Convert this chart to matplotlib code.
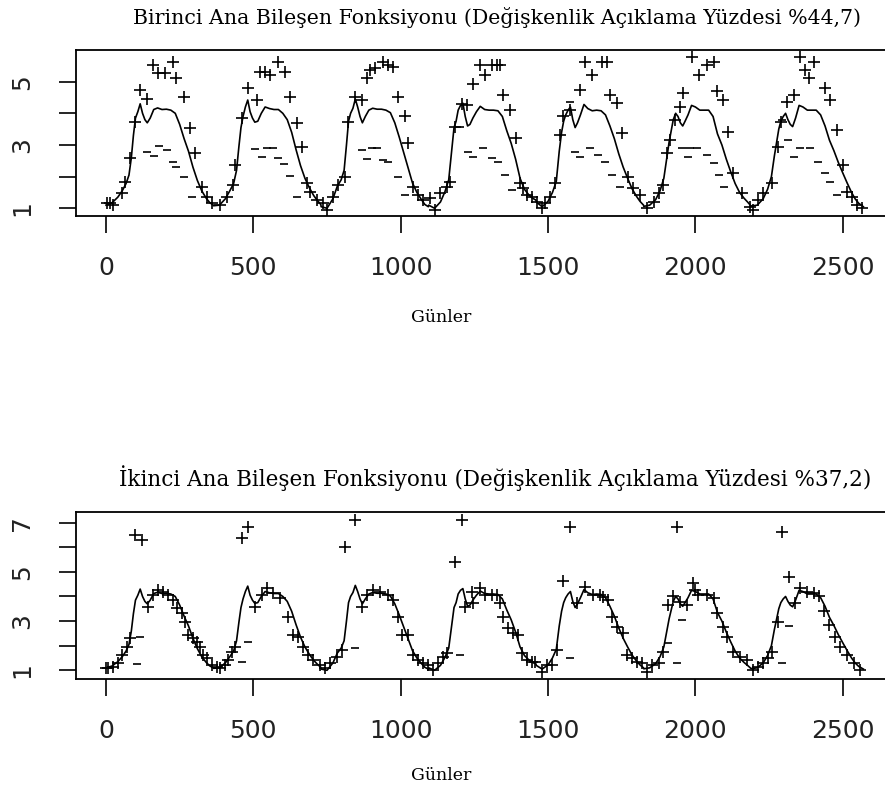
import numpy as np
import matplotlib.pyplot as plt

# --- data ------------------------------------------------------------------
year_len = 365
mean_doy = [0, 20, 40, 55, 68, 78, 86, 93, 100, 108, 116, 124, 132, 140, 150,
            162, 175, 190, 205, 220, 235, 250, 265, 280, 295, 310, 325, 340, 352, 364]
mean_y1 = [1.10, 1.17, 1.35, 1.55, 1.78, 2.05, 2.60, 3.30, 3.85, 4.05, 4.30, 4.00, 3.80, 3.70, 3.85,
           4.12, 4.17, 4.12, 4.13, 4.10, 4.00, 3.65, 3.20, 2.80, 2.30, 1.88, 1.55, 1.32, 1.18, 1.10]
mean_y2 = [1.08, 1.10, 1.30, 1.55, 1.78, 2.20, 2.95, 3.55, 3.90, 4.20, 4.42, 4.05, 3.85, 3.72, 3.75,
           4.00, 4.20, 4.15, 4.12, 4.12, 4.00, 3.80, 3.40, 2.85, 2.35, 1.95, 1.65, 1.40, 1.25, 1.12]
mean_y3 = [1.05, 1.00, 1.30, 1.70, 1.90, 2.20, 3.00, 3.75, 4.00, 4.16, 4.45, 4.20, 3.90, 3.70, 3.90,
           4.10, 4.16, 4.13, 4.13, 4.10, 4.02, 3.70, 3.25, 2.77, 2.28, 1.80, 1.50, 1.28, 1.12, 1.05]
mean_y4 = [1.10, 1.00, 1.20, 1.52, 1.90, 2.80, 3.55, 3.75, 4.10, 4.25, 4.32, 3.90, 3.60, 3.65, 3.85,
           4.05, 4.22, 4.12, 4.10, 4.10, 4.08, 3.90, 3.45, 3.05, 2.55, 1.95, 1.60, 1.42, 1.32, 1.26]
mean_y5 = [1.20, 1.05, 1.22, 1.50, 1.85, 2.80, 3.40, 3.75, 3.95, 4.10, 4.20, 3.80, 3.55, 3.70, 3.95,
           4.28, 4.15, 4.08, 4.10, 4.08, 3.95, 3.60, 3.20, 2.72, 2.30, 1.95, 1.62, 1.38, 1.22, 1.10]
mean_y6 = [1.06, 1.10, 1.27, 1.55, 1.95, 2.60, 3.10, 3.45, 3.80, 4.00, 3.90, 3.70, 3.60, 3.75, 3.95,
           4.25, 4.20, 4.10, 4.10, 4.10, 3.90, 3.35, 3.00, 2.55, 2.15, 1.78, 1.50, 1.32, 1.20, 1.07]
mean_y7 = [1.07, 1.10, 1.30, 1.60, 2.00, 2.65, 3.10, 3.50, 3.75, 3.90, 4.00, 3.80, 3.65, 3.58, 3.85,
           4.25, 4.20, 4.10, 4.10, 4.10, 3.95, 3.60, 3.15, 2.82, 2.45, 2.12, 1.80, 1.50, 1.30, 1.16]
mean_end_day = [2570]
mean_end_val = [1.05]

# first component: mean + / - component
pc1_plus_day = [2, 14, 25, 53, 64, 81, 98, 115, 140, 161, 178, 200, 229, 238, 265, 285, 302, 325, 342, 359,
                387, 410, 432, 438, 460, 483, 511, 523, 540, 557, 585, 607, 624, 647, 664, 681, 692, 715, 738,
                749, 771, 788, 811, 822, 845, 868, 885, 896, 913, 941, 958, 975, 992, 1015, 1026, 1043, 1060,
                1077, 1100, 1117, 1133, 1156, 1167, 1184, 1207, 1224, 1247, 1269, 1286, 1309, 1326, 1337, 1348,
                1371, 1390, 1405, 1415, 1427, 1444, 1461, 1478, 1490, 1507, 1524, 1541, 1552, 1575, 1609, 1626,
                1648, 1682, 1699, 1710, 1733, 1750, 1773, 1790, 1812, 1835, 1858, 1875, 1891, 1903, 1914, 1931,
                1948, 1959, 1988, 2011, 2040, 2062, 2072, 2095, 2112, 2129, 2157, 2185, 2197, 2214, 2231, 2259,
                2282, 2290, 2310, 2333, 2355, 2372, 2384, 2401, 2440, 2457, 2480, 2502, 2514, 2531, 2548, 2565]
pc1_plus_val = [1.16, 1.18, 1.11, 1.47, 1.84, 2.58, 3.74, 4.74, 4.44, 5.53, 5.27, 5.27, 5.63, 5.11, 4.53, 3.53,
                2.74, 1.68, 1.37, 1.16, 1.11, 1.37, 1.74, 2.37, 3.84, 4.79, 4.42, 5.32, 5.32, 5.21, 5.63, 5.32,
                4.53, 3.69, 2.95, 1.79, 1.53, 1.26, 1.16, 0.95, 1.37, 1.74, 2.00, 3.74, 4.53, 4.42, 5.11, 5.37,
                5.42, 5.63, 5.53, 5.47, 4.53, 3.90, 3.05, 1.68, 1.42, 1.26, 1.32, 0.95, 1.47, 1.68, 1.84, 3.58,
                4.30, 4.26, 4.92, 5.53, 5.21, 5.53, 5.53, 5.53, 4.58, 4.11, 3.21, 1.79, 1.63, 1.42, 1.37, 1.21,
                1.00, 1.16, 1.37, 1.79, 3.32, 3.90, 4.11, 4.74, 5.63, 5.21, 5.63, 5.63, 4.58, 4.32, 3.37, 2.00,
                1.63, 1.42, 1.00, 1.21, 1.47, 1.74, 2.74, 3.16, 3.79, 4.21, 4.63, 5.79, 5.21, 5.53, 5.63, 4.69,
                4.42, 3.42, 2.11, 1.47, 1.05, 0.95, 1.26, 1.47, 1.79, 2.95, 3.74, 4.37, 4.58, 5.79, 5.37, 5.11,
                5.63, 4.79, 4.42, 3.47, 2.37, 1.53, 1.37, 1.11, 1.00]
pc1_minus_day = [140, 163, 181, 208, 229, 238, 265, 291,
                 506, 528, 545, 568, 585, 604, 624, 647,
                 868, 885, 902, 918, 941, 958, 992, 1015,
                 1201, 1230, 1247, 1281, 1309, 1331, 1354, 1377,
                 1575, 1592, 1609, 1643, 1671, 1693, 1716, 1744,
                 1953, 1976, 1982, 2004, 2039, 2062, 2079, 2096,
                 2293, 2315, 2333, 2355, 2389, 2417, 2440, 2457, 2480]
pc1_minus_val = [2.79, 2.65, 2.97, 2.84, 2.47, 2.30, 1.98, 1.37,
                 2.86, 2.61, 2.90, 2.90, 2.58, 2.40, 2.02, 1.35,
                 2.84, 2.55, 2.90, 2.90, 2.53, 2.47, 2.00, 1.42,
                 3.58, 2.79, 2.61, 2.90, 2.58, 2.47, 2.05, 1.58,
                 4.37, 2.79, 2.61, 2.90, 2.68, 2.47, 2.05, 1.68,
                 2.90, 2.61, 2.90, 2.90, 2.68, 2.44, 2.05, 1.68,
                 3.79, 3.16, 2.63, 2.90, 2.90, 2.47, 2.11, 1.84, 1.42]

# second component
pc2_plus_day = [0, 8, 25, 42, 53, 70, 81, 98, 121, 144, 161, 178, 195, 212, 229, 240, 257, 268, 279, 296, 308,
                319, 330, 342, 359, 376, 387, 404, 415, 426, 438, 460, 483, 506, 528, 545, 568, 590, 619, 636,
                653, 670, 687, 704, 726, 743, 760, 783, 800, 811, 845, 868, 885, 907, 930, 958, 975, 992, 1003,
                1026, 1043, 1060, 1077, 1094, 1111, 1128, 1145, 1156, 1184, 1207, 1218, 1241, 1247, 1269, 1286,
                1309, 1326, 1337, 1348, 1365, 1382, 1399, 1410, 1427, 1444, 1455, 1478, 1495, 1513, 1530, 1552,
                1575, 1597, 1626, 1653, 1676, 1687, 1705, 1716, 1733, 1755, 1767, 1784, 1801, 1818, 1835, 1852,
                1875, 1891, 1908, 1925, 1936, 1948, 1970, 1993, 1999, 2010, 2039, 2062, 2072, 2095, 2106, 2129,
                2152, 2174, 2197, 2214, 2231, 2248, 2259, 2282, 2293, 2316, 2338, 2355, 2378, 2401, 2418, 2435,
                2452, 2474, 2491, 2514, 2537, 2559]
pc2_plus_val = [1.08, 1.08, 1.15, 1.28, 1.62, 1.96, 2.30, 6.49, 6.30, 3.59, 4.06, 4.26, 4.20, 4.06, 3.86, 3.52,
                3.32, 2.98, 2.44, 2.30, 2.16, 1.96, 1.62, 1.49, 1.22, 1.15, 1.08, 1.22, 1.42, 1.76, 1.96, 6.36,
                6.83, 3.59, 4.06, 4.33, 4.13, 3.93, 3.18, 2.44, 2.37, 1.96, 1.62, 1.42, 1.22, 1.08, 1.28, 1.55,
                1.83, 6.02, 7.11, 3.59, 4.06, 4.26, 4.20, 4.06, 3.86, 3.18, 2.44, 2.44, 1.62, 1.42, 1.28, 1.22,
                1.01, 1.28, 1.55, 1.69, 5.42, 7.11, 3.59, 4.20, 3.72, 4.33, 4.06, 4.06, 4.06, 3.72, 3.18, 2.71,
                2.50, 2.44, 1.69, 1.42, 1.35, 1.35, 0.94, 1.22, 1.22, 1.83, 4.61, 6.84, 3.72, 4.40, 4.06, 4.06,
                3.99, 3.86, 3.18, 2.77, 2.50, 1.62, 1.49, 1.35, 1.28, 0.94, 1.22, 1.28, 1.76, 3.66, 4.00, 6.84,
                3.79, 3.66, 4.53, 4.26, 4.06, 4.06, 3.93, 3.32, 2.77, 2.37, 1.76, 1.55, 1.42, 1.01, 1.15, 1.28,
                1.49, 1.76, 2.98, 6.63, 4.81, 3.72, 4.33, 4.20, 4.13, 4.00, 3.39, 2.84, 2.37, 1.96, 1.62, 1.28,
                1.01]
pc2_minus_day = [104, 115, 460, 483, 845, 1201, 1575, 1908, 1936, 1954, 2293, 2316]
pc2_minus_val = [1.26, 2.37, 1.32, 2.16, 1.89, 1.62, 1.49, 2.10, 1.31, 3.04, 1.31, 2.80]

titles = ['Birinci Ana Bileşen Fonksiyonu (Değişkenlik Açıklama Yüzdesi %44,7)',
          'İkinci Ana Bileşen Fonksiyonu (Değişkenlik Açıklama Yüzdesi %37,2)']
xlabel = 'Günler'
x_ticks = [0, 500, 1000, 1500, 2000, 2500]

mean_by_year = [mean_y1, mean_y2, mean_y3, mean_y4, mean_y5, mean_y6, mean_y7]
mean_days = [k * year_len + d for k in range(len(mean_by_year)) for d in mean_doy] + mean_end_day
mean_vals = [v for yr in mean_by_year for v in yr] + mean_end_val

# --- figure -----------------------------------------------------------------
W, H = 885, 794
fig = plt.figure(figsize=(W / 100, H / 100), dpi=100)

def px_axes(left, right, top, bottom):
    return fig.add_axes([left / W, 1 - bottom / H, (right - left) / W, (bottom - top) / H])

ax1 = px_axes(76, 894, 50, 215.7)
ax2 = px_axes(76, 894, 512.3, 679)

panels = [
    (ax1, pc1_plus_day, pc1_plus_val, pc1_minus_day, pc1_minus_val, (0.766, 6.0), range(1, 6)),
    (ax2, pc2_plus_day, pc2_plus_val, pc2_minus_day, pc2_minus_val, (0.646, 7.42), range(1, 8)),
]

for ax, pd_, pv, md, mv, ylim, yt in panels:
    ax.plot(mean_days, mean_vals, color='black', lw=1.2, zorder=2)
    ax.plot(pd_, pv, ls='none', marker='+', ms=8.5, mew=1.2, color='black', zorder=3)
    ax.plot(md, mv, ls='none', marker='_', ms=6, mew=1.2, color='black', zorder=3)
    ax.set_xlim(-101.8, 2674)
    ax.set_ylim(*ylim)
    ax.set_xticks(x_ticks)
    ax.set_xticklabels([str(t) for t in x_ticks], family='DejaVu Sans', fontsize=18, color='#222222')
    ax.set_yticks(list(yt))
    ax.set_yticklabels([str(t) if t % 2 == 1 else '' for t in yt], family='DejaVu Sans',
                       fontsize=18, rotation=90, va='center', color='#222222')
    ax.tick_params(axis='both', direction='out', length=12, width=1.2)
    ax.tick_params(axis='x', pad=17)
    ax.tick_params(axis='y', pad=18)
    for s in ax.spines.values():
        s.set_linewidth(1.3)

fig.text(497 / W, 1 - 18 / H, titles[0], family='DejaVu Serif', fontsize=14.8, ha='center', va='center')
fig.text(495 / W, 1 - 478 / H, titles[1], family='DejaVu Serif', fontsize=15.5, ha='center', va='center')
fig.text(441 / W, 1 - 318 / H, xlabel, family='DejaVu Serif', fontsize=12.5, ha='center', va='center')
fig.text(441 / W, 1 - 776 / H, xlabel, family='DejaVu Serif', fontsize=12.5, ha='center', va='center')

fig.savefig('out.png', dpi=100)
